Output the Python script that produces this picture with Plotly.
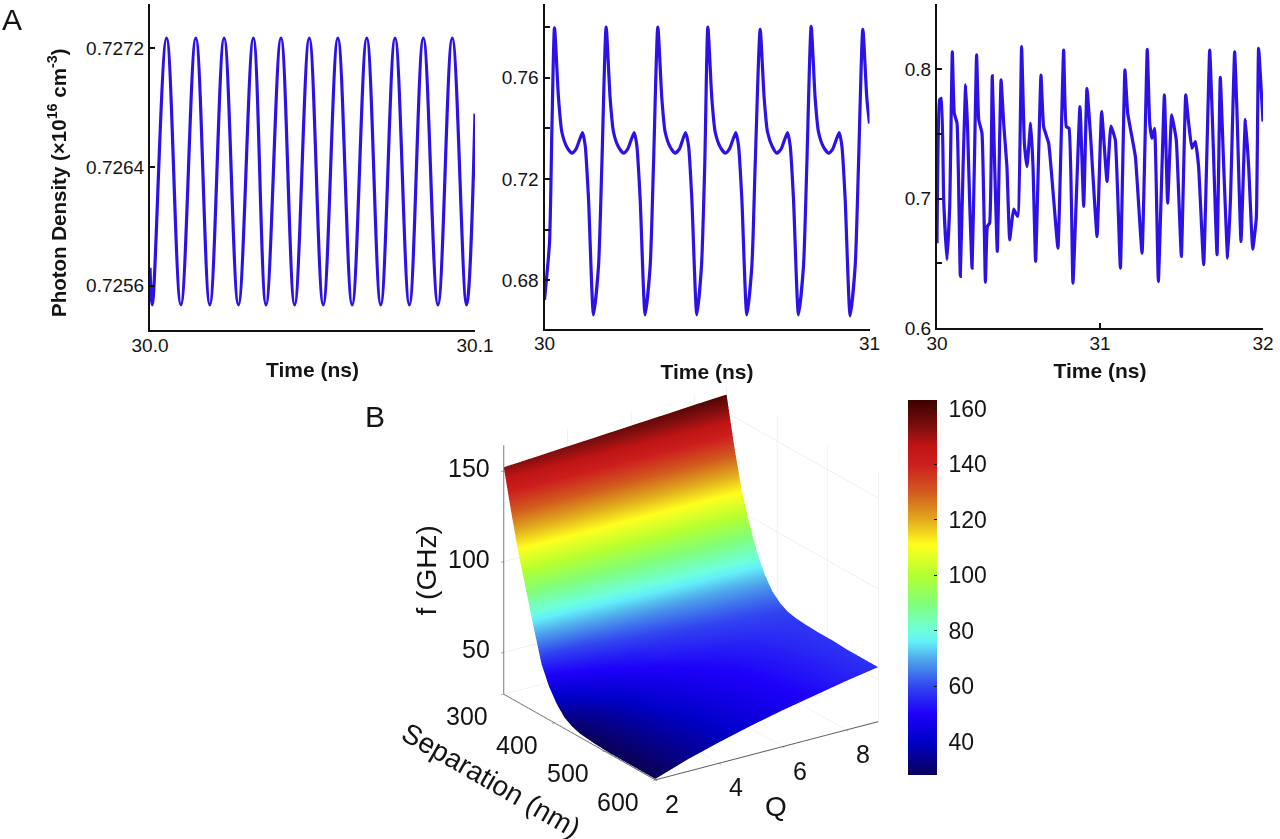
import plotly.graph_objects as go

W, H = 1280, 839
FONT = "Liberation Sans"
INK = "#141414"
BLUE = "#2c12e6"

# Panel 1
t1 = [30.0, 30.0007, 30.0051, 30.0095, 30.0141, 30.0184, 30.0228, 30.0272, 30.0318, 30.0357, 30.0403, 30.0445,
      30.0490, 30.0533, 30.0578, 30.0622, 30.0667, 30.0710, 30.0754, 30.0798, 30.0841, 30.0886, 30.0930, 30.0974, 30.1]
n1 = [0.72572, 0.72547, 0.72727, 0.72547, 0.72727, 0.72547, 0.72727, 0.72547, 0.72727, 0.72547, 0.72727, 0.72547,
      0.72727, 0.72547, 0.72727, 0.72547, 0.72727, 0.72547, 0.72727, 0.72547, 0.72727, 0.72547, 0.72727, 0.72547, 0.72676]

# Panel 2
t2 = [30.0, 30.0154, 30.0226, 30.0308,
      30.0431, 30.0534, 30.0687, 30.0841, 30.0975, 30.1170, 30.1252, 30.1354, 30.1508, 30.1662, 30.1764, 30.1897,
      30.2020, 30.2123, 30.2276, 30.2430, 30.2564, 30.2759, 30.2841, 30.2943, 30.3097, 30.3251, 30.3353, 30.3487,
      30.3610, 30.3713, 30.3866, 30.4020, 30.4154, 30.4338, 30.4431, 30.4533, 30.4687, 30.4830, 30.4930, 30.5026,
      30.5149, 30.5252, 30.5405, 30.5559, 30.5693, 30.5887, 30.5970, 30.6072, 30.6226, 30.6380, 30.6482, 30.6636,
      30.6759, 30.6862, 30.7015, 30.7149, 30.7283, 30.7477, 30.7559, 30.7661, 30.7815, 30.7969, 30.8071, 30.8205,
      30.8328, 30.8431, 30.8584, 30.8738, 30.8872, 30.9067, 30.9149, 30.9251, 30.9405, 30.9559, 30.9661, 30.9795,
      30.9918, 31.0]
n2 = [0.6723, 0.6948, 0.7385, 0.7796,
      0.7518, 0.7385, 0.7326, 0.7302, 0.7319, 0.7383, 0.7332, 0.7121, 0.6664, 0.6856, 0.7253, 0.7799,
      0.7518, 0.7385, 0.7326, 0.7302, 0.7319, 0.7383, 0.7332, 0.7121, 0.6664, 0.6856, 0.7253, 0.7799,
      0.7518, 0.7385, 0.7326, 0.7302, 0.7319, 0.7383, 0.7332, 0.7121, 0.6664, 0.6856, 0.7253, 0.7799,
      0.7518, 0.7385, 0.7326, 0.7302, 0.7319, 0.7383, 0.7332, 0.7121, 0.6664, 0.6856, 0.7253, 0.7790,
      0.7518, 0.7385, 0.7326, 0.7302, 0.7319, 0.7383, 0.7332, 0.7121, 0.6664, 0.6856, 0.7253, 0.7802,
      0.7518, 0.7385, 0.7326, 0.7302, 0.7319, 0.7383, 0.7332, 0.7121, 0.6660, 0.6856, 0.7253, 0.7790,
      0.7518, 0.7418]

# Panel 3
t3 = [30.0, 30.016, 30.027, 30.041, 30.061, 30.078, 30.094, 30.106, 30.123, 30.143, 30.160, 30.176, 30.188, 30.200,
      30.215, 30.229, 30.243, 30.256, 30.276, 30.297, 30.309, 30.323, 30.339, 30.354, 30.370, 30.393, 30.409, 30.429,
      30.446, 30.470, 30.495, 30.519, 30.536, 30.552, 30.575, 30.589, 30.605, 30.638, 30.654, 30.685, 30.716, 30.742,
      30.777, 30.793, 30.810, 30.834, 30.877, 30.900, 30.920, 30.941, 30.982, 31.010, 31.043, 31.067, 31.094, 31.125,
      31.153, 31.170, 31.217, 31.258, 31.290, 31.305, 31.319, 31.335, 31.358, 31.395, 31.415, 31.440, 31.468, 31.499,
      31.526, 31.544, 31.564, 31.585, 31.605, 31.636, 31.673, 31.689, 31.718, 31.738, 31.759, 31.783, 31.800, 31.826,
      31.840, 31.865, 31.892, 31.912, 31.937, 31.959, 31.973, 32.0]
n3 = [0.6656, 0.7763, 0.7776, 0.6991, 0.6528, 0.6940, 0.8136, 0.7660, 0.7583, 0.6399, 0.7248, 0.7879, 0.7532, 0.6991,
      0.6463, 0.7248, 0.8111, 0.7609, 0.7506, 0.6353, 0.6785, 0.6811, 0.7949, 0.7248, 0.6592, 0.7918, 0.7583, 0.7248,
      0.6682, 0.6919, 0.6862, 0.8175, 0.7429, 0.7248, 0.7583, 0.7248, 0.6515, 0.7956, 0.7557, 0.7429, 0.6991, 0.6618,
      0.8149, 0.7557, 0.7544, 0.6347, 0.7712, 0.6940, 0.7853, 0.7506, 0.6708, 0.7673, 0.7133, 0.7562, 0.7454, 0.6463,
      0.7995, 0.7660, 0.7326, 0.6579, 0.8154, 0.7583, 0.7467, 0.7544, 0.6360, 0.7802, 0.6965, 0.7647, 0.7454, 0.6553,
      0.7802, 0.7583, 0.7390, 0.7441, 0.7248, 0.6489, 0.8149, 0.7634, 0.6566, 0.7938, 0.7248, 0.6541, 0.6978, 0.8136,
      0.7686, 0.6669, 0.7614, 0.7248, 0.6610, 0.6849, 0.8162, 0.7596]

# Surface
q_vals = [2, 3, 4, 5, 6, 7, 8, 9]
sep_vals = [300, 315, 330, 345, 360, 375, 390, 405, 420, 435, 450, 480, 510, 540, 570, 600]
f_vals = [
    [152, 153.1, 154.3, 155.4, 156.6, 157.7, 158.9, 160],
    [129, 129.6, 130.3, 131, 131.8, 132.5, 133.2, 134],
    [108, 108.6, 109.2, 109.8, 110.4, 111, 111.5, 112],
    [90, 90.8, 91.6, 92.4, 93.2, 94, 95, 96],
    [72, 74, 76, 78, 80, 81, 82, 83],
    [55, 60, 64, 66, 68, 70, 71, 73],
    [45, 52, 57, 60, 62, 64, 65, 66],
    [38, 46, 52, 56, 58, 60, 61, 62],
    [33, 42, 49, 54, 56, 58, 59, 59.5],
    [30.5, 39, 46, 51, 54, 56, 57.5, 58.5],
    [29, 37, 44, 49, 52, 54.5, 56.5, 58],
    [28, 35, 42, 46.5, 50, 53, 55.5, 57.5],
    [27.5, 34, 40, 45, 49, 52, 55, 57.5],
    [27.5, 33.5, 39, 44, 48, 51.5, 54.5, 57],
    [27.5, 33.5, 38.5, 43.5, 47.5, 51, 54.5, 57],
    [27.5, 33.5, 38.5, 43, 47, 50.5, 54, 57],
]
cb_ticks = [40, 60, 80, 100, 120, 140, 160]
cb_labels = ["\u00a040", "\u00a060", "\u00a080", "\u00a0100", "\u00a0120", "\u00a0140", "\u00a0160"]
q_ticks = [2, 4, 6, 8]
sep_ticks = [300, 400, 500, 600]
f_ticks = [50, 100, 150]
C_MIN, C_MAX = 28, 163.2
stops = [(28, "#0a005a"), (40, "#0000c8"), (50, "#1e00fa"), (60, "#3246f0"), (70, "#50aaeb"), (76, "#64f0fa"),
         (80, "#6effdc"), (90, "#82ff78"), (100, "#b4ff32"), (111, "#ffff1e"), (120, "#e1aa1e"), (130, "#d25a1e"),
         (140, "#cd1e1e"), (147, "#be1414"), (153, "#820f0f"), (163.2, "#3c0000")]
cscale = [[(v - C_MIN) / (C_MAX - C_MIN), c] for v, c in stops]

fig = go.Figure()
lines = [(t1, n1, "x", "y", 1.1), (t2, n2, "x2", "y2", 0.6), (t3, n3, "x3", "y3", 0.35)]
for t, n, xa, ya, sm in lines:
    fig.add_trace(go.Scatter(x=t, y=n, xaxis=xa, yaxis=ya, mode="lines", showlegend=False,
                             line=dict(color=BLUE, width=3.2, shape="spline", smoothing=sm)))

fig.add_trace(go.Surface(
    x=q_vals, y=sep_vals, z=f_vals, cmin=C_MIN, cmax=C_MAX, colorscale=cscale, scene="scene",
    lighting=dict(ambient=1, diffuse=0, specular=0, roughness=1, fresnel=0),
    colorbar=dict(thickness=29, thicknessmode="pixels", len=375, lenmode="pixels",
                  x=908 / W, xanchor="left", xpad=0, y=(H - 775) / H, yanchor="bottom", ypad=0,
                  tickvals=cb_ticks, ticktext=cb_labels, ticks="inside", ticklen=3, tickcolor="#111", outlinewidth=0,
                  tickfont=dict(family=FONT, size=23, color=INK)),
))


def ax(px0, px1, rng, tickvals, ticktext, title=None, standoff=0, anchor=None, domain_h=True, size=19):
    d = dict(domain=[px0 / W, px1 / W] if domain_h else [1 - px1 / H, 1 - px0 / H],
             range=rng, tickvals=tickvals, ticktext=ticktext, ticks="inside", ticklen=5, tickwidth=1.5,
             tickcolor="#111", showgrid=False, zeroline=False, showline=True, linecolor="#111", linewidth=2,
             tickfont=dict(family=FONT, size=size, color=INK), anchor=anchor, automargin=False)
    if domain_h:
        d["ticklabelstandoff"] = -3
    if title:
        d["title"] = dict(text=title, standoff=standoff, font=dict(family=FONT, size=21, color=INK))
    return d


layout = dict(
    width=W, height=H, margin=dict(l=0, r=0, t=0, b=0), paper_bgcolor="white", plot_bgcolor="rgba(0,0,0,0)",
    showlegend=False,
    xaxis=ax(150, 475, [30, 30.1], [30, 30.1], ["30.0", "30.1"], "<b>Time (ns)</b>", 8, "y"),
    yaxis=ax(4, 330, [0.72530, 0.72750], [0.7256, 0.7264, 0.7272], ["0.7256", "0.7264", "0.7272"],
             None, 0, "x", False),
    xaxis2=ax(544.5, 869.5, [30, 31], [30, 31], ["30", "31"], "<b>Time (ns)</b>", 11, "y2"),
    yaxis2=ax(4, 328.5, [0.6610, 0.7890], [0.68, 0.70, 0.72, 0.74, 0.76, 0.78], ["0.68", "", "0.72", "", "0.76", ""],
              None, 0, "x2", False),
    xaxis3=ax(937, 1263, [30, 32], [30, 31, 32], ["30", "31", "32"], "<b>Time (ns)</b>", 11, "y3"),
    yaxis3=ax(4, 328, [0.6, 0.8505], [0.6, 0.65, 0.7, 0.75, 0.8], ["0.6", "", "0.7", "", "0.8"], None, 0, "x3", False),
    annotations=[
        dict(text="A", x=12 / W, y=1 - 20 / H, xref="paper", yref="paper", showarrow=False, xanchor="center",
             yanchor="middle", font=dict(family=FONT, size=30, color=INK)),
        dict(text="B", x=375 / W, y=1 - 417 / H, xref="paper", yref="paper", showarrow=False, xanchor="center",
             yanchor="middle", font=dict(family=FONT, size=30, color=INK)),
        dict(text="<b>Photon Density (×10<sup>16</sup> cm<sup>-3</sup>)</b>", x=57 / W, y=1 - 183 / H, xref="paper",
             yref="paper", showarrow=False, xanchor="center", yanchor="middle", textangle=-90,
             font=dict(family=FONT, size=20.5, color=INK)),
    ],
)
fig.update_layout(**layout)


def ax3(rng, tickvals, linecolor, gridcolor="#e2e2e2"):
    return dict(range=rng, tickvals=tickvals, showbackground=False, showgrid=True, gridcolor=gridcolor, gridwidth=1,
                showline=True, linecolor=linecolor, linewidth=2, zeroline=False, ticks="outside", ticklen=3,
                tickcolor="#333", showspikes=False, showticklabels=False, title=dict(text=""))


def note3d(x, y, z, text, xshift=0, yshift=0, size=25, angle=0, xanchor="center"):
    return dict(x=x, y=y, z=z, text=text, showarrow=False, xanchor=xanchor, yanchor="middle", xshift=xshift,
                yshift=yshift, textangle=angle, font=dict(family=FONT, size=size, color=INK))


notes = [note3d(2, 300, v, str(v), -12, 3, xanchor="right") for v in f_ticks]
notes += [note3d(v, 600, 27, str(v), 17, -24) for v in q_ticks]
notes += [note3d(2, v, 27, str(v), -37, -22) for v in sep_ticks]
notes += [note3d(2, 300, 95, "f (GHz)", -77, 0, 28, -90),
          note3d(5.5, 600, 27, "Q", 9, -56, 28),
          note3d(2, 450, 27, "Separation (nm)", -88, -43, 28, 30)]

fig.update_layout(scene=dict(
    domain=dict(x=[401 / W, 981 / W], y=[0, 1 - 328 / H]),
    aspectmode="manual", aspectratio=dict(x=1.055, y=1.055, z=1.055),
    xaxis=ax3([2, 9], q_ticks, "#555"),
    yaxis=ax3([600, 300], sep_ticks, "#555"),
    zaxis=ax3([27, 164], f_ticks, "#777"),
    bgcolor="rgba(0,0,0,0)",
    annotations=notes,
    camera=dict(projection=dict(type="orthographic"),
                eye=dict(x=-1.0, y=-1.47, z=0.74), up=dict(x=0, y=0, z=1), center=dict(x=0, y=0, z=0)),
))
fig.write_html("out.html", config={"displayModeBar": False},
               post_script="document.body.style.margin='0';document.documentElement.style.overflow='hidden';")
